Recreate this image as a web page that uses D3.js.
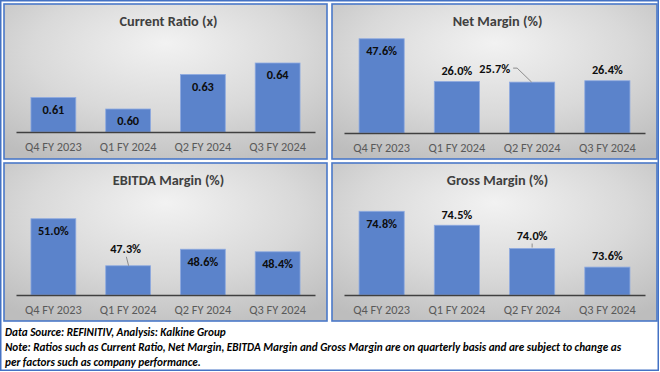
<!DOCTYPE html>
<html>
<head>
<meta charset="utf-8">
<script src="https://cdn.jsdelivr.net/npm/d3@7"></script>
<style>
html,body{margin:0;padding:0;background:#fff;}
svg{display:block;}
text{font-family:Carlito, Calibri, Lato, "Open Sans", sans-serif;}
</style>
</head>
<body>
<svg id="chart" width="660" height="372"></svg>
<script>
// ---- data ----
const categories = ["Q4 FY 2023", "Q1 FY 2024", "Q2 FY 2024", "Q3 FY 2024"];
const currentRatio = [0.61, 0.60, 0.63, 0.64];
const netMargin = [47.6, 26.0, 25.7, 26.4];
const ebitdaMargin = [51.0, 47.3, 48.6, 48.4];
const grossMargin = [74.8, 74.5, 74.0, 73.6];
const panelTitles = ["Current Ratio (x)", "Net Margin (%)", "EBITDA Margin (%)", "Gross Margin (%)"];
const footerLines = [
  "Data Source: REFINITIV, Analysis: Kalkine Group",
  "Note: Ratios such as Current Ratio, Net Margin, EBITDA Margin and Gross Margin are on quarterly basis and are subject to change as",
  "per factors such as company performance."
];

// ---- layout / style config ----
const panels = [
  {title: panelTitles[0], values: currentRatio, fmt: d => d.toFixed(2),
   x: 4, y: 4, w: 323, h: 155, baseline: 128, domain: [0.58, 0.66], plotH: 92,
   labels: ["in", "in", "in", "in"]},
  {title: panelTitles[1], values: netMargin, fmt: d => d.toFixed(1) + "%",
   x: 332, y: 4, w: 325, h: 155, baseline: 129, domain: [0, 50], plotH: 99,
   labels: ["in", "above", {dx: -22, dy: -13, anchor: "end", line: [[-19, -14], [-15, -14], [-0.5, 0]]}, "above"]},
  {title: panelTitles[2], values: ebitdaMargin, fmt: d => d.toFixed(1) + "%",
   x: 4, y: 163, w: 323, h: 158, baseline: 132, domain: [45, 52], plotH: 89,
   labels: ["in", {dx: -2.5, dy: -17, anchor: "middle", line: [[-1.8, -9], [0.5, 0]]}, "in", "in"]},
  {title: panelTitles[3], values: grossMargin, fmt: d => d.toFixed(1) + "%",
   x: 332, y: 163, w: 325, h: 158, baseline: 132, domain: [73, 75], plotH: 93,
   labels: ["in", "above", {dx: 0, dy: -12.5, anchor: "middle", line: [[0, -5], [0, -1]]}, "above"]}
];

const svg = d3.select("#chart");
const defs = svg.append("defs");
const grad = defs.append("radialGradient").attr("id", "panelBg")
  .attr("cx", "50%").attr("cy", "35%").attr("r", "75%").attr("fx", "50%").attr("fy", "25%");
grad.append("stop").attr("offset", "0%").attr("stop-color", "#f2f2f2");
grad.append("stop").attr("offset", "55%").attr("stop-color", "#d9d9d9");
grad.append("stop").attr("offset", "100%").attr("stop-color", "#bdbdbd");

svg.append("rect").attr("x", 0.75).attr("y", 0.75).attr("width", 657.5).attr("height", 369.5)
  .attr("fill", "#fff").attr("stroke", "#4472c4").attr("stroke-width", 1.5);

panels.forEach(p => {
  const g = svg.append("g").attr("transform", `translate(${p.x},${p.y})`);
  g.append("rect").attr("x", 0).attr("y", 0).attr("width", p.w).attr("height", p.h)
    .attr("fill", "url(#panelBg)").attr("stroke", "#4a78c8").attr("stroke-width", 1.6);

  g.append("text").attr("x", p.w / 2 + 3).attr("y", 22).attr("text-anchor", "middle")
    .attr("font-size", 14.3).attr("font-weight", "bold").attr("fill", "#404040").text(p.title);

  const x = d3.scaleBand().domain(categories).range([12, p.w - 12]).paddingInner(0.4).paddingOuter(0.2);
  const y = d3.scaleLinear().domain(p.domain).range([p.baseline, p.baseline - p.plotH]);

  g.selectAll("rect.bar").data(p.values).join("rect").attr("class", "bar")
    .attr("x", (d, i) => x(categories[i])).attr("width", x.bandwidth())
    .attr("y", d => y(d)).attr("height", d => p.baseline - y(d))
    .attr("fill", "#5b83cb").attr("stroke", "#8eaae0").attr("stroke-width", 0.8);

  const axis = d3.axisBottom(x).tickSize(0).tickPadding(10);
  const ax = g.append("g").attr("transform", `translate(0,${p.baseline})`).call(axis);
  ax.select(".domain").attr("stroke", "#404040").attr("stroke-width", 1.6);
  ax.selectAll(".tick text").attr("font-size", 12.3).attr("fill", "#595959")
    .style("font-family", "Carlito, Calibri, Lato, 'Open Sans', sans-serif");

  p.values.forEach((d, i) => {
    const cx = x(categories[i]) + x.bandwidth() / 2;
    const top = y(d);
    const L = p.labels[i];
    let tx = cx, ty, anchor = "middle";
    if (L === "in") ty = top + 12;
    else if (L === "above") ty = top - 11;
    else {
      tx = cx + L.dx; ty = top + L.dy; anchor = L.anchor;
      g.append("path").attr("d", d3.line()(L.line.map(pt => [cx + pt[0], top + pt[1]])))
        .attr("fill", "none").attr("stroke", "#8c8c8c").attr("stroke-width", 1);
    }
    g.append("text").attr("x", tx).attr("y", ty).attr("dy", "0.35em").attr("text-anchor", anchor)
      .attr("font-size", 12.3).attr("font-weight", "bold").attr("fill", "#0d0d0d").text(p.fmt(d));
  });
});

svg.selectAll("text.footer").data(footerLines).join("text").attr("class", "footer")
  .attr("x", 5).attr("y", (d, i) => 336 + i * 15)
  .attr("font-size", 11.2).attr("font-weight", "bold").attr("font-style", "italic")
  .attr("fill", "#000").text(d => d);
</script>
</body>
</html>
